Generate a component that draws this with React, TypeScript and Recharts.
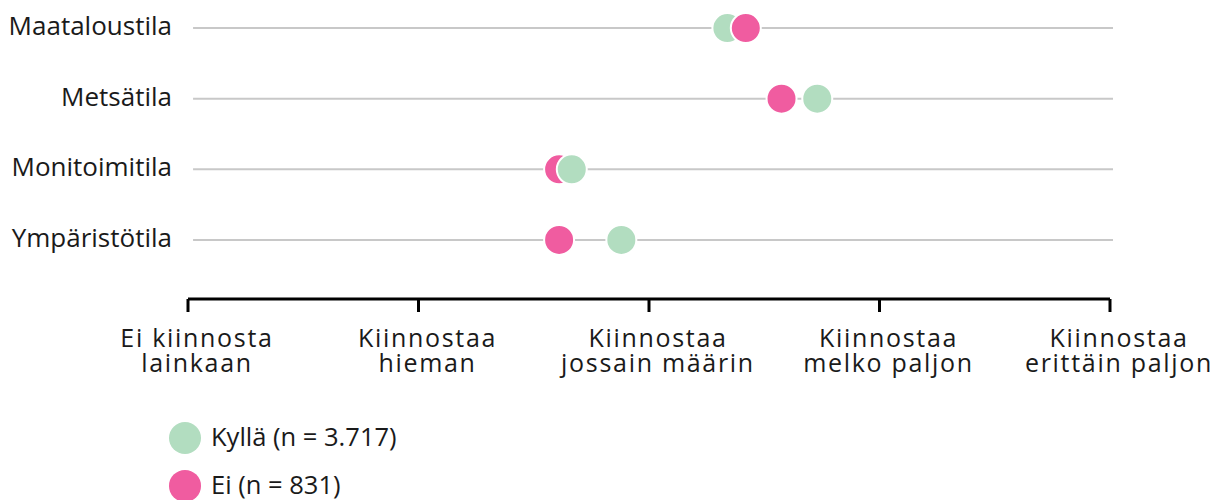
import React from 'react';
import { ScatterChart, Scatter, XAxis, YAxis, ReferenceLine, Legend } from 'recharts';

const categories = ['Maataloustila', 'Metsätila', 'Monitoimitila', 'Ympäristötila'];
const kyllaValues = [3.34, 3.73, 2.665, 2.88];
const eiValues = [3.42, 3.575, 2.61, 2.61];
const scaleTicks = [1, 2, 3, 4, 5];
const scaleLabels = [
  ['Ei kiinnosta', 'lainkaan'],
  ['Kiinnostaa', 'hieman'],
  ['Kiinnostaa', 'jossain määrin'],
  ['Kiinnostaa', 'melko paljon'],
  ['Kiinnostaa', 'erittäin paljon'],
];
const seriesNames = ['Kyllä (n = 3.717)', 'Ei (n = 831)'];
const seriesColors = ['#B2DDC0', '#F05CA0'];

const FONT = '"Open Sans", sans-serif';

const points = categories
  .flatMap((c, i) => [
    { x: kyllaValues[i], y: i, s: 0, cat: c },
    { x: eiValues[i], y: i, s: 1, cat: c },
  ])
  .sort((a, b) => a.x - b.x);

const YTick = (props: any) => {
  const { x, y, payload } = props;
  return (
    <text x={x} y={y + 7} textAnchor="end" fontSize={26} fontFamily={FONT} fill="#1a1a1a">
      {categories[payload.value]}
    </text>
  );
};

const XTick = (props: any) => {
  const { x, y, payload } = props;
  const idx = scaleTicks.indexOf(payload.value);
  const lines = scaleLabels[idx] || ['', ''];
  const cx = x + 9;
  return (
    <text textAnchor="middle" fontSize={25} fontFamily={FONT} fill="#1a1a1a" letterSpacing={1.7}>
      <tspan x={cx} y={y + 34.7}>{lines[0]}</tspan>
      <tspan x={cx} y={y + 60.3}>{lines[1]}</tspan>
    </text>
  );
};

const Dot = (props: any) => {
  const { cx, cy, payload } = props;
  return <circle cx={cx} cy={cy} r={15} fill={seriesColors[payload.s]} stroke="#ffffff" strokeWidth={2} />;
};

const LegendContent = () => (
  <svg width={400} height={78} style={{ overflow: 'visible' }}>
    {seriesNames.map((n, i) => (
      <g key={n}>
        <circle cx={16} cy={16 + i * 47.9} r={16} fill={seriesColors[i]} />
        <text x={42} y={24.4 + i * 47.9} fontSize={25.5} fontFamily={FONT} fill="#1a1a1a">
          {n}
        </text>
      </g>
    ))}
  </svg>
);

export default function App() {
  return (
    <ScatterChart width={1206} height={492} margin={{ top: 6, right: 104, bottom: 121, left: 0 }}>
      <XAxis
        type="number"
        dataKey="x"
        domain={[1, 5]}
        ticks={scaleTicks}
        height={80}
        axisLine={{ stroke: '#000', strokeWidth: 3 }}
        tickLine={{ stroke: '#000', strokeWidth: 3 }}
        tickSize={13}
        tickMargin={0}
        tick={<XTick />}
        interval={0}
      />
      <YAxis
        type="number"
        dataKey="y"
        domain={[-0.2, 3.837]}
        reversed
        ticks={[0, 1, 2, 3]}
        width={180}
        axisLine={false}
        tickLine={false}
        tickSize={0}
        tickMargin={16}
        tick={<YTick />}
        interval={0}
      />
      {categories.map((c, i) => (
        <ReferenceLine
          key={c}
          segment={[{ x: 1.022, y: i }, { x: 5.013, y: i }]}
          stroke="#c8c8c8"
          strokeWidth={2}
          ifOverflow="visible"
        />
      ))}
      <Scatter data={points} shape={<Dot />} isAnimationActive={false} />
      <Legend
        layout="vertical"
        align="center"
        verticalAlign="middle"
        content={<LegendContent />}
        wrapperStyle={{ position: 'absolute', left: 161, top: 414, width: 400, height: 78 }}
      />
    </ScatterChart>
  );
}
